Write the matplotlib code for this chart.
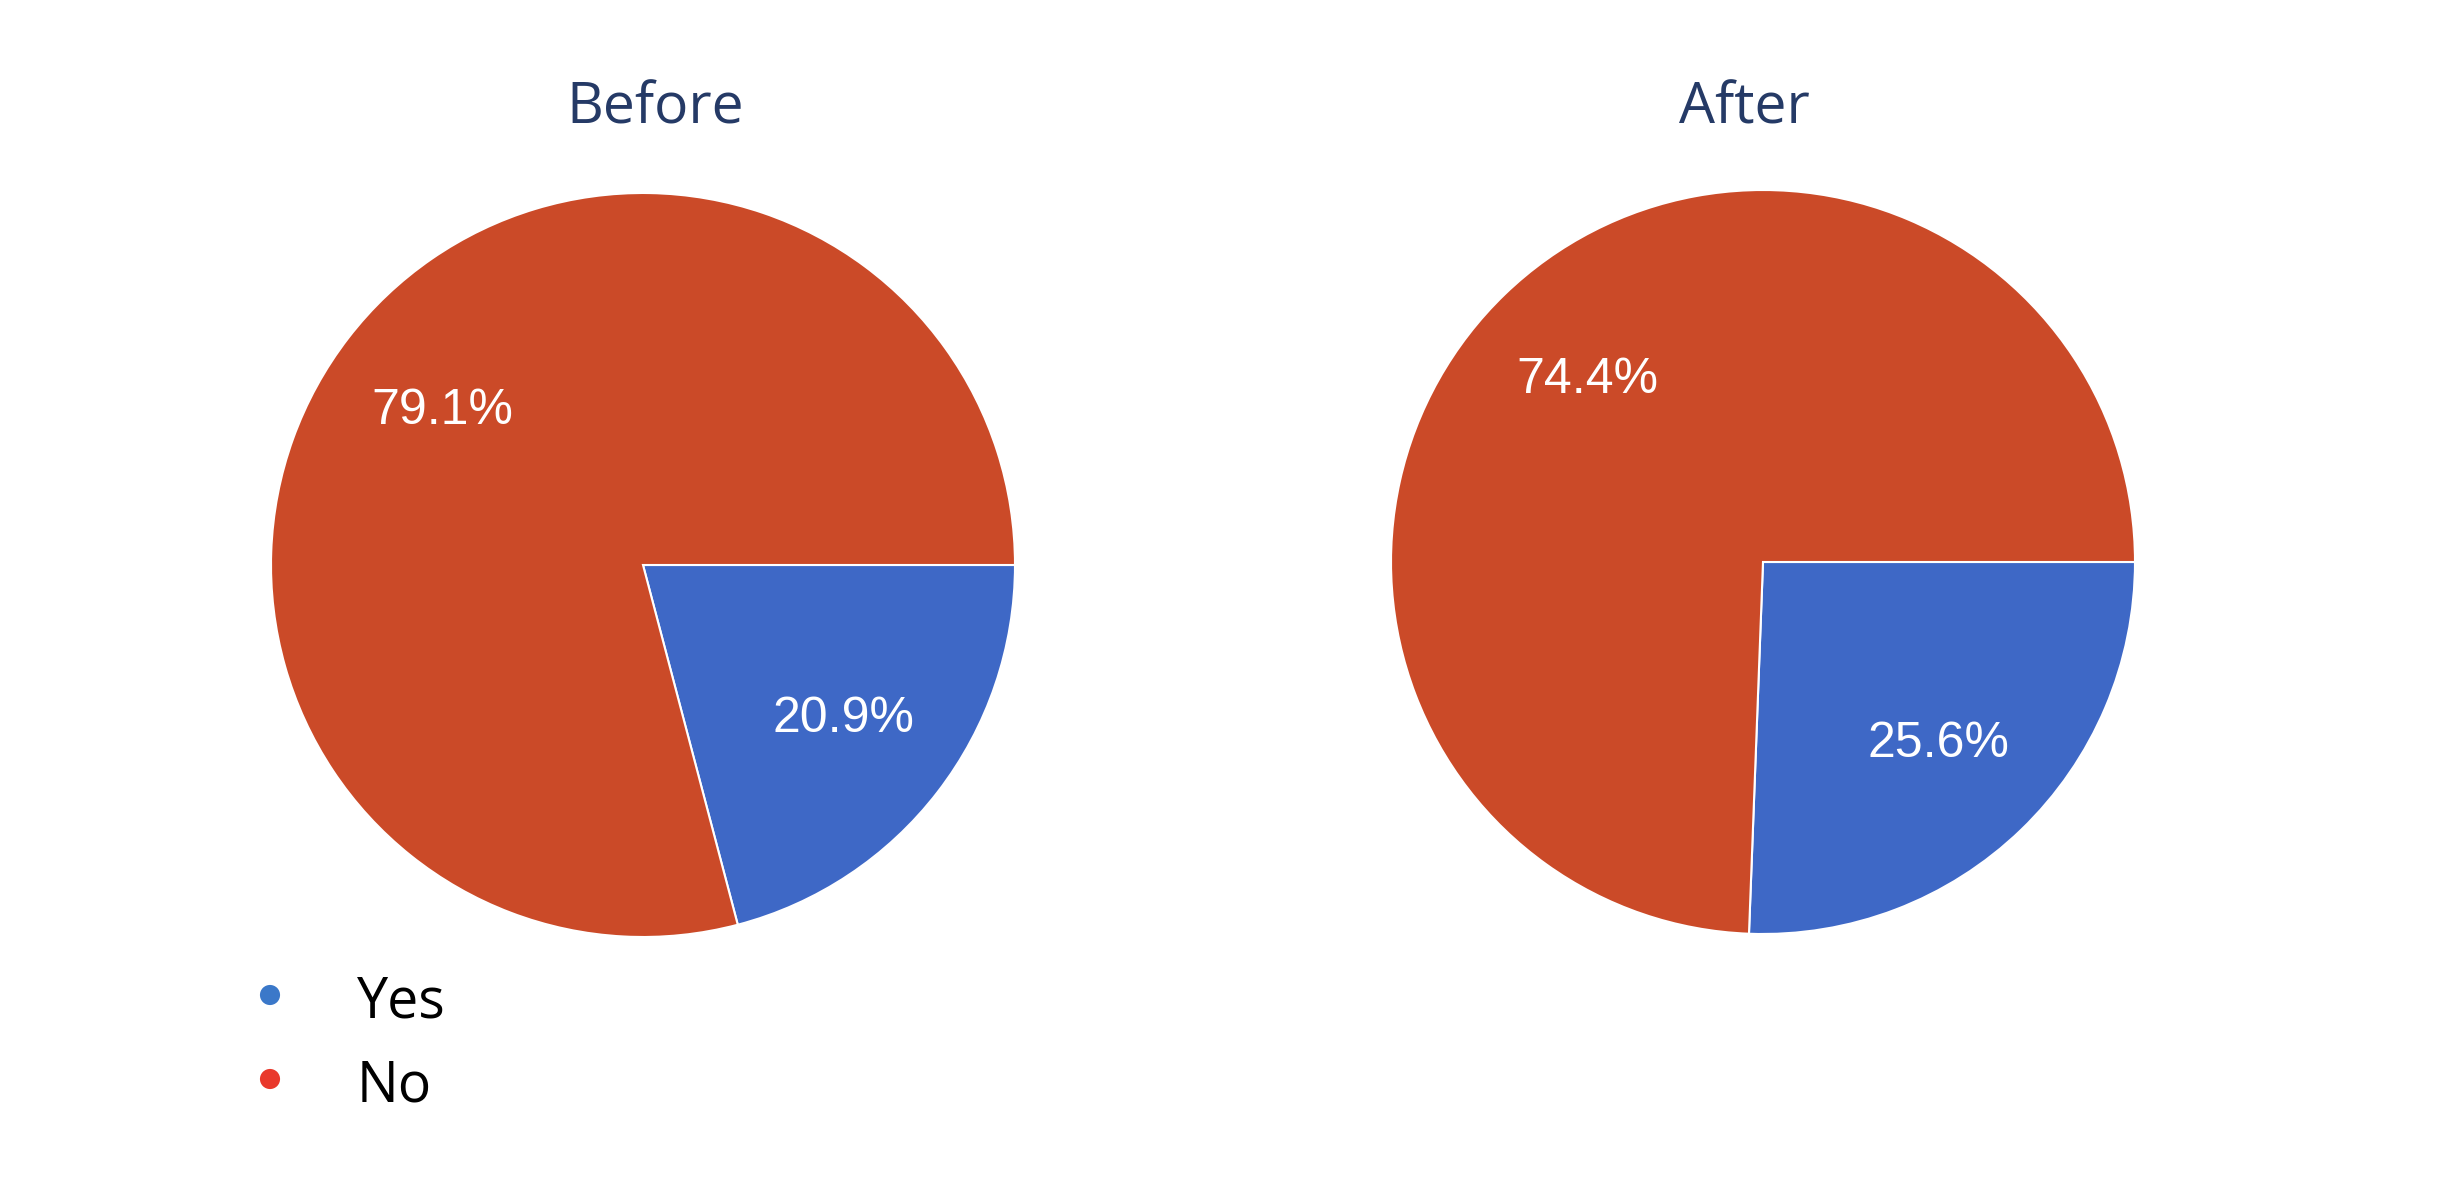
import matplotlib
matplotlib.use("Agg")
import matplotlib.pyplot as plt

# data
categories = ["Yes", "No"]
before_vals = [20.9, 79.1]
after_vals = [25.6, 74.4]
titles = ["Before", "After"]

wedge_colors = ["#3e68c6", "#cb4a28"]
dot_colors = ["#3b78c9", "#e9392c"]
title_color = "#253a66"

W, H = 2446, 1180
fig = plt.figure(figsize=(W / 100, H / 100), dpi=100)


def px_axes(cx, cy, r):
    # square axes centred at pixel (cx, cy) from the top-left corner
    return fig.add_axes([(cx - r) / W, (H - cy - r) / H, 2 * r / W, 2 * r / H])


pies = [
    (before_vals, (643, 565), (655, 123)),
    (after_vals, (1763, 562), (1744, 123)),
]

for (vals, (cx, cy), (tx, ty)), title in zip(pies, titles):
    ax = px_axes(cx, cy, 372)
    wedges, texts, autotexts = ax.pie(
        vals, colors=wedge_colors, startangle=0, counterclock=False,
        autopct="%.1f%%", pctdistance=0.68,
        wedgeprops=dict(edgecolor="white", linewidth=1.5),
        textprops=dict(color="white", fontsize=36, family="Liberation Sans"))
    ax.set_xlim(-1, 1)
    ax.set_ylim(-1, 1)
    ax.set_aspect("equal")
    fig.text(tx / W, 1 - ty / H, title, ha="center", va="baseline",
             fontsize=41, color=title_color, family="Open Sans")

# legend drawn in pixel coordinates
lax = fig.add_axes([0, 0, 1, 1])
lax.set_xlim(0, W)
lax.set_ylim(H, 0)
lax.axis("off")
leg_y = [1018, 1102]
for name, col, y in zip(categories, dot_colors, leg_y):
    lax.scatter([270], [y - 23], s=210, color=col, edgecolors="none")
    lax.text(357, y, name, ha="left", va="baseline", fontsize=40,
             color="black", family="Open Sans")

fig.savefig("out.png", dpi=100, facecolor="white")
